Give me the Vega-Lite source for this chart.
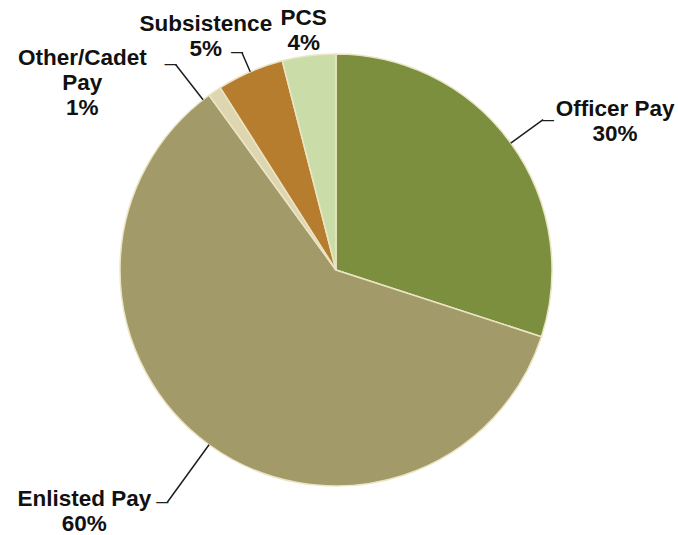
{
  "$schema": "https://vega.github.io/schema/vega-lite/v6.json",
  "width": 672,
  "height": 540,
  "padding": {"left": 0, "top": 0, "right": 6, "bottom": 0},
  "autosize": "none",
  "background": "white",
  "config": {"view": {"stroke": null}},
  "data": {
    "values": [
      {"cat": "Officer Pay", "value": 30, "order": 1, "label": "Officer Pay\n30%"},
      {"cat": "Enlisted Pay", "value": 60, "order": 2, "label": "Enlisted Pay\n60%"},
      {"cat": "Other/Cadet Pay", "value": 1, "order": 3, "label": "Other/Cadet\nPay\n1%"},
      {"cat": "Subsistence", "value": 5, "order": 4, "label": "Subsistence\n5%"},
      {"cat": "PCS", "value": 4, "order": 5, "label": "PCS\n4%"}
    ]
  },
  "layer": [
    {
      "mark": {"type": "arc", "outerRadius": 216, "stroke": "#ebe5c5", "strokeWidth": 1.5},
      "encoding": {
        "theta": {"field": "value", "type": "quantitative", "stack": true},
        "order": {"field": "order", "type": "quantitative"},
        "color": {
          "field": "cat",
          "type": "nominal",
          "legend": null,
          "scale": {
            "domain": ["Officer Pay", "Enlisted Pay", "Other/Cadet Pay", "Subsistence", "PCS"],
            "range": ["#7b8f3f", "#a29a69", "#ddd6b0", "#b67d2e", "#cadda9"]
          }
        }
      }
    },
    {
      "transform": [
        {"stack": "value", "groupby": [], "sort": [{"field": "order", "order": "ascending"}], "as": ["v0", "v1"]},
        {"filter": "datum.cat !== 'PCS'"}
      ],
      "mark": {
        "type": "arc",
        "theta": {"expr": "PI * (datum.v0 + datum.v1) / 100 - (datum.cat === 'Other/Cadet Pay' ? 0.066 : 0)"},
        "theta2": {"expr": "PI * (datum.v0 + datum.v1) / 100 - (datum.cat === 'Other/Cadet Pay' ? 0.066 : 0)"},
        "innerRadius": 216,
        "outerRadius": {"expr": "datum.cat === 'Officer Pay' ? 256 : datum.cat === 'Enlisted Pay' ? 287 : datum.cat === 'Subsistence' ? 237 : 261"},
        "fill": null,
        "stroke": "#1e1e1e",
        "strokeWidth": 1.5
      },
      "encoding": {}
    },
    {
      "transform": [
        {"stack": "value", "groupby": [], "sort": [{"field": "order", "order": "ascending"}], "as": ["v0", "v1"]},
        {"filter": "datum.cat !== 'PCS'"}
      ],
      "mark": {
        "type": "text",
        "text": "—",
        "font": "Liberation Sans",
        "fontWeight": "bold",
        "fontSize": 12,
        "baseline": "middle",
        "color": "#1e1e1e",
        "theta": {"expr": "PI * (datum.v0 + datum.v1) / 100 - (datum.cat === 'Other/Cadet Pay' ? 0.066 : 0)"},
        "align": {"expr": "datum.cat === 'Officer Pay' ? 'left' : 'right'"},
        "dx": {"expr": "datum.cat === 'Officer Pay' ? -1 : 1"},
        "radius": {"expr": "datum.cat === 'Officer Pay' ? 256 : datum.cat === 'Enlisted Pay' ? 287 : datum.cat === 'Subsistence' ? 237 : 261"}
      },
      "encoding": {}
    },
    {
      "mark": {
        "type": "text",
        "font": "Liberation Sans",
        "fontWeight": "bold",
        "fontSize": 22.5,
        "lineHeight": 25,
        "lineBreak": "\n",
        "align": "center",
        "baseline": "middle",
        "color": "#111111",
        "radius": {"expr": "datum.cat === 'Officer Pay' ? 256 : datum.cat === 'Enlisted Pay' ? 287 : datum.cat === 'Subsistence' ? 237 : datum.cat === 'PCS' ? 242 : 245"},
        "dx": {"expr": "datum.cat === 'Officer Pay' ? 72 : datum.cat === 'Enlisted Pay' ? -83 : datum.cat === 'Subsistence' ? -36 : datum.cat === 'PCS' ? -2 : -116"},
        "dy": {"expr": "datum.cat === 'Officer Pay' ? -11 : datum.cat === 'Enlisted Pay' ? -3 : datum.cat === 'Subsistence' ? -28 : datum.cat === 'PCS' ? -12 : -9"}
      },
      "encoding": {
        "theta": {"field": "value", "type": "quantitative", "stack": true},
        "order": {"field": "order", "type": "quantitative"},
        "text": {"field": "label", "type": "nominal"}
      }
    }
  ]
}
